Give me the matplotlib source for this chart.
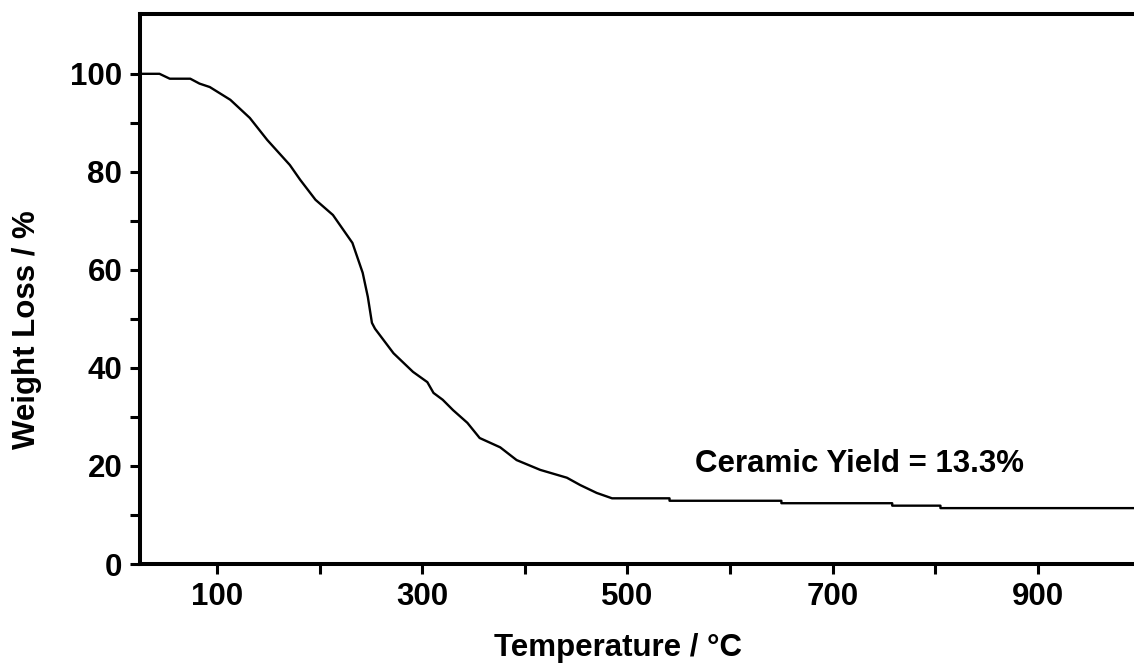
import matplotlib
matplotlib.use("Agg")
import matplotlib.pyplot as plt
from matplotlib.ticker import FixedLocator

plt.rcParams['font.family'] = ['Liberation Sans', 'DejaVu Sans']
plt.rcParams['font.weight'] = 'bold'

temperature = [25, 44, 54, 74, 83, 93, 113, 132, 149, 171,
               181, 196, 213, 232, 242, 247, 251, 254, 272, 291,
               305, 311, 320, 330, 344, 356, 376, 392, 415, 441,
               454, 470, 485, 541, 541, 650, 650, 758, 758, 805,
               805, 1000]
weight = [100, 100, 99, 99, 98, 97.3, 94.7, 91, 86.5, 81.4,
          78.4, 74.3, 71.2, 65.5, 59.4, 54.5, 49.2, 48.0, 43, 39.2,
          37.1, 34.9, 33.5, 31.4, 28.8, 25.7, 23.8, 21.2, 19.2, 17.6,
          16.1, 14.5, 13.4, 13.4, 12.9, 12.9, 12.4, 12.4, 11.9, 11.9,
          11.4, 11.4]

x_major = [100, 300, 500, 700, 900]
x_minor = [200, 400, 600, 800]
y_major = [0, 20, 40, 60, 80, 100]
y_minor = [10, 30, 50, 70, 90]

W, H = 1134, 666
fig = plt.figure(figsize=(W / 100, H / 100), dpi=100)
ax = fig.add_axes([140 / W, (H - 564) / H, (W - 140) / W, (564 - 14) / H])

ax.plot(temperature, weight, color='black', linewidth=1.7)

ax.set_xlim(25, 993.6)
ax.set_ylim(0, 112.2)

ax.xaxis.set_major_locator(FixedLocator(x_major))
ax.xaxis.set_minor_locator(FixedLocator(x_minor))
ax.yaxis.set_major_locator(FixedLocator(y_major))
ax.yaxis.set_minor_locator(FixedLocator(y_minor))
ax.set_xticklabels([str(v) for v in x_major])
ax.set_yticklabels([str(v) for v in y_major])

for s in ['left', 'top', 'bottom']:
    ax.spines[s].set_linewidth(2.9)
ax.spines['right'].set_visible(False)

ax.tick_params(which='both', direction='out', length=7.2, width=2.2,
               top=False, right=False)
ax.tick_params(which='major', labelsize=22.5, pad=5.5)
for lab in ax.get_xticklabels() + ax.get_yticklabels():
    lab.set_fontweight('bold')

ax.text(566, 18.8, 'Ceramic Yield = 13.3%', fontsize=22.5, fontweight='bold',
        ha='left', va='baseline')

fig.text(618 / W, 1 - 648 / H, 'Temperature / \u00b0C', fontsize=22.5,
         fontweight='bold', ha='center', va='center')
fig.text(27 / W, 1 - 330 / H, 'Weight Loss / %', fontsize=22.5,
         fontweight='bold', ha='center', va='center', rotation=90)

fig.savefig('out.png', dpi=100)
